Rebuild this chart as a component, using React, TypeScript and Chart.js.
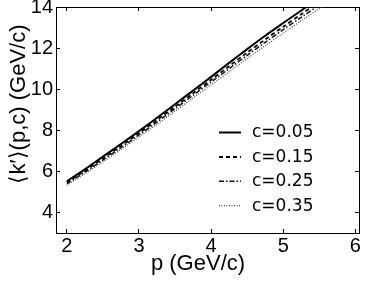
import React, { useEffect, useRef } from 'react';
import { Chart, registerables } from 'chart.js';

Chart.register(...registerables);

const P = [2, 2.25, 2.5, 2.75, 3, 3.25, 3.5, 3.75, 4, 4.25, 4.5, 4.75, 5, 5.25, 5.5, 5.75];
const C005 = [5.52, 6.1, 6.72, 7.33, 7.96, 8.61, 9.27, 9.93, 10.6, 11.28, 11.95, 12.6, 13.22, 13.83, 14.45, 15.0];
const C015 = [5.46, 6.03, 6.63, 7.24, 7.86, 8.5, 9.15, 9.8, 10.46, 11.12, 11.78, 12.42, 13.04, 13.65, 14.25, 14.85];
const C025 = [5.4, 5.96, 6.55, 7.15, 7.77, 8.4, 9.05, 9.7, 10.35, 11.0, 11.65, 12.28, 12.9, 13.5, 14.1, 14.7];
const C035 = [5.33, 5.88, 6.46, 7.06, 7.67, 8.29, 8.93, 9.57, 10.21, 10.85, 11.49, 12.12, 12.73, 13.33, 13.92, 14.5];

const SERIES_LABELS = ['c=0.05', 'c=0.15', 'c=0.25', 'c=0.35'];
const X_TICKS = [2, 3, 4, 5, 6];
const Y_TICKS = [4, 6, 8, 10, 12, 14];
const X_TITLE = 'p (GeV/c)';
const Y_TITLE = '⟨k′⟩(p,c) (GeV/c)';

const FONT = '"Liberation Sans", Arial, Helvetica, sans-serif';

const overlay = {
  id: 'overlay',
  afterDraw(chart: any) {
    const { ctx } = chart;
    ctx.save();
    const rows = [132.5, 157, 181.3, 205.7];
    chart.data.datasets.forEach((ds: any, i: number) => {
      const y = rows[i];
      ctx.strokeStyle = ds.borderColor;
      ctx.lineWidth = ds.borderWidth;
      ctx.setLineDash(ds.borderDash || []);
      ctx.beginPath();
      ctx.moveTo(219, y);
      ctx.lineTo(241, y);
      ctx.stroke();
      ctx.setLineDash([]);
      ctx.fillStyle = '#000';
      ctx.font = '17px "DejaVu Sans", sans-serif';
      ctx.textAlign = 'left';
      ctx.textBaseline = 'middle';
      ctx.fillText(ds.label, 252, y + 0.5);
    });
    ctx.fillStyle = '#000';
    ctx.font = `22px ${FONT}`;
    ctx.textAlign = 'center';
    ctx.textBaseline = 'alphabetic';
    ctx.fillText(X_TITLE, 198, 270);
    ctx.translate(25, 104);
    ctx.rotate(-Math.PI / 2);
    ctx.fillText(Y_TITLE, 0, 0);
    ctx.restore();
  },
};

function mk(label: string, ys: number[], dash: number[], width: number, color: string) {
  return {
    label,
    data: P.map((p, i) => ({ x: p, y: ys[i] })),
    borderColor: color,
    backgroundColor: color,
    borderWidth: width,
    borderDash: dash,
    pointRadius: 0,
    fill: false,
    tension: 0.3,
  };
}

export default function App() {
  const ref = useRef<HTMLCanvasElement | null>(null);
  useEffect(() => {
    if (!ref.current) return;
    const tickFont = { family: FONT, size: 20 };
    const noPad = (s: any) => { s.paddingTop = 0; s.paddingBottom = 0; s.paddingLeft = 0; s.paddingRight = 0; };
    const fixW = (w: number) => (s: any) => { s.width = w; noPad(s); };
    const fixH = (h: number) => (s: any) => { s.height = h; noPad(s); };
    const chart = new Chart(ref.current, {
      type: 'line',
      data: {
        datasets: [
          mk(SERIES_LABELS[0], C005, [], 2, '#000'),
          mk(SERIES_LABELS[1], C015, [4, 3], 1.8, '#000'),
          mk(SERIES_LABELS[2], C025, [5, 2, 1.5, 2], 1.5, '#111'),
          mk(SERIES_LABELS[3], C035, [1, 1.5], 1.2, '#444'),
        ],
      },
      options: {
        animation: false,
        responsive: false,
        maintainAspectRatio: false,
        layout: { padding: { left: 0, right: 15, top: 7, bottom: 0 } },
        plugins: { legend: { display: false }, tooltip: { enabled: false } },
        scales: {
          x: {
            type: 'linear',
            position: 'bottom',
            min: 1.85,
            max: 6.05,
            afterBuildTicks: (s: any) => { s.ticks = X_TICKS.map((v) => ({ value: v })); },
            afterFit: fixH(48),
            ticks: { font: tickFont, color: '#000', padding: 5, maxRotation: 0, autoSkip: false },
            grid: { drawOnChartArea: false, tickLength: -4, color: '#000', lineWidth: 1 },
            border: { color: '#000', width: 1 },
          },
          x2: {
            type: 'linear',
            position: 'top',
            min: 1.85,
            max: 6.05,
            afterBuildTicks: (s: any) => { s.ticks = X_TICKS.map((v) => ({ value: v })); },
            afterFit: fixH(0),
            ticks: { display: false },
            grid: { drawOnChartArea: false, tickLength: -4, color: '#000', lineWidth: 1 },
            border: { color: '#000', width: 1 },
          },
          y: {
            type: 'linear',
            position: 'left',
            min: 3,
            max: 14,
            afterBuildTicks: (s: any) => { s.ticks = Y_TICKS.map((v) => ({ value: v })); },
            afterFit: fixW(56),
            ticks: { font: tickFont, color: '#000', padding: 7 },
            grid: { drawOnChartArea: false, tickLength: -4, color: '#000', lineWidth: 1 },
            border: { color: '#000', width: 1 },
          },
          y2: {
            type: 'linear',
            position: 'right',
            min: 3,
            max: 14,
            afterBuildTicks: (s: any) => { s.ticks = Y_TICKS.map((v) => ({ value: v })); },
            afterFit: fixW(0),
            ticks: { display: false },
            grid: { drawOnChartArea: false, tickLength: -4, color: '#000', lineWidth: 1 },
            border: { color: '#000', width: 1 },
          },
        },
      } as any,
      plugins: [overlay],
    });
    return () => chart.destroy();
  }, []);
  return (
    <div style={{ width: 374, height: 281, position: 'relative' }}>
      <style>{'body{margin:0;background:#fff;overflow:hidden}'}</style>
      <canvas ref={ref} width={374} height={281} style={{ display: 'block', width: 374, height: 281 }} />
    </div>
  );
}
